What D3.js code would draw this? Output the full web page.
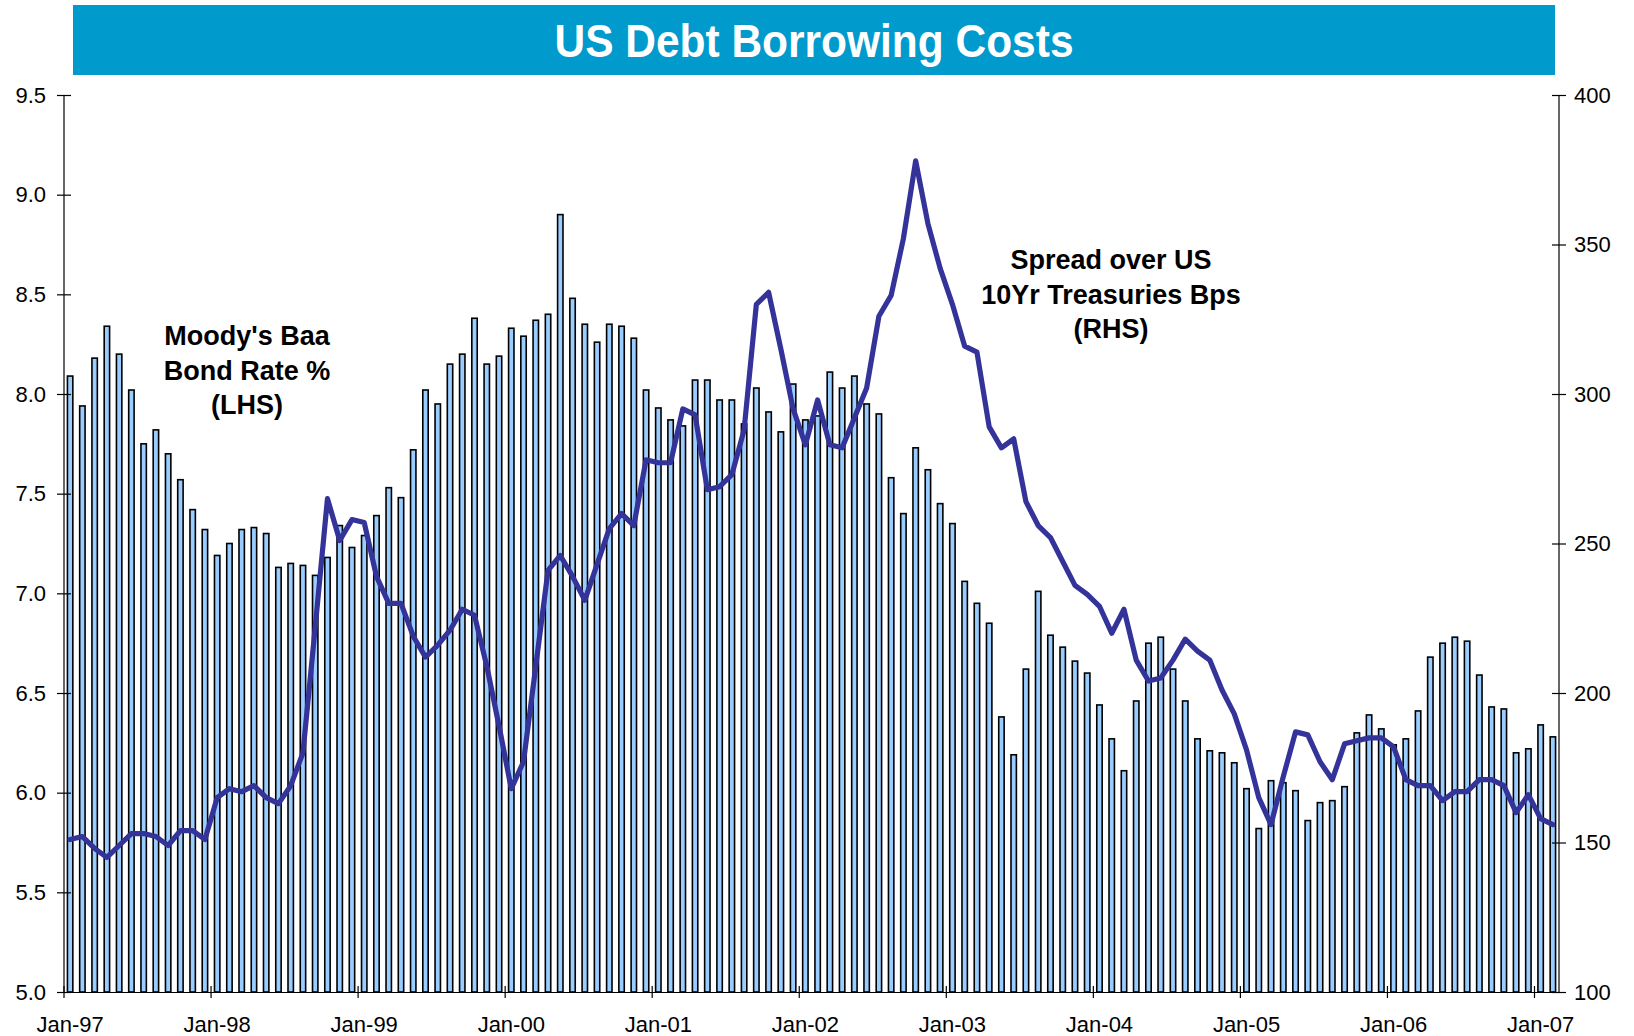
<!DOCTYPE html>
<html><head><meta charset="utf-8">
<script src="https://cdn.jsdelivr.net/npm/d3@7"></script>
<style>
body{margin:0;background:#fff;}
svg{display:block;}
text{font-family:"Liberation Sans",Arial,Helvetica,sans-serif;}
</style>
</head><body>
<svg id="chart" width="1634" height="1036"></svg>
<script>
// ---------- data ----------
const yearLabels = ["97","98","99","00","01","02","03","04","05","06","07"];
const monthNames = ["Jan","Feb","Mar","Apr","May","Jun","Jul","Aug","Sep","Oct","Nov","Dec"];
const categories = yearLabels.flatMap(y => monthNames.map(m => m + "-" + y)).slice(0, 122);
const tickLabels = ["Jan-97","Jan-98","Jan-99","Jan-00","Jan-01","Jan-02","Jan-03","Jan-04","Jan-05","Jan-06","Jan-07"];

// Moody's Baa bond rate % (LHS)
const baaRate = [
  8.09,7.94,8.18,8.34,8.20,8.02,7.75,7.82,7.70,7.57,7.42,7.32,
  7.19,7.25,7.32,7.33,7.30,7.13,7.15,7.14,7.09,7.18,7.34,7.23,
  7.29,7.39,7.53,7.48,7.72,8.02,7.95,8.15,8.20,8.38,8.15,8.19,
  8.33,8.29,8.37,8.40,8.90,8.48,8.35,8.26,8.35,8.34,8.28,8.02,
  7.93,7.87,7.84,8.07,8.07,7.97,7.97,7.85,8.03,7.91,7.81,8.05,
  7.87,7.89,8.11,8.03,8.09,7.95,7.90,7.58,7.40,7.73,7.62,7.45,
  7.35,7.06,6.95,6.85,6.38,6.19,6.62,7.01,6.79,6.73,6.66,6.60,
  6.44,6.27,6.11,6.46,6.75,6.78,6.62,6.46,6.27,6.21,6.20,6.15,
  6.02,5.82,6.06,6.05,6.01,5.86,5.95,5.96,6.03,6.30,6.39,6.32,
  6.24,6.27,6.41,6.68,6.75,6.78,6.76,6.59,6.43,6.42,6.20,6.22,
  6.34,6.28
];

// Spread over US 10Yr Treasuries, bps (RHS)
const spreadBps = [
  151,152,148,145,149,153,153,152,149,154,154,151,
  165,168,167,169,165,163,169,180,222,265,251,258,
  257,239,230,230,219,212,216,221,228,226,209,189,
  168,177,209,241,246,239,231,243,255,260,256,278,
  277,277,295,293,268,269,273,288,330,334,315,295,
  283,298,283,282,292,302,326,333,352,378,357,342,
  330,316,314,289,282,285,264,256,252,244,236,233,
  229,220,228,211,204,205,211,218,214,211,201,193,
  181,165,156,172,187,186,177,171,183,184,185,185,
  182,171,169,169,164,167,167,171,171,169,160,166,
  158,156
];

const leftTicks = [5.0,5.5,6.0,6.5,7.0,7.5,8.0,8.5,9.0,9.5];
const rightTicks = [100,150,200,250,300,350,400];
const title = "US Debt Borrowing Costs";
const baaLabel = ["Moody's Baa","Bond Rate %","(LHS)"];
const spreadLabel = ["Spread over US","10Yr Treasuries Bps","(RHS)"];

// ---------- layout ----------
const L = 64, R = 1559, T = 95, B = 992;
const svg = d3.select("#chart");

const x = d3.scaleBand().domain(categories).range([L, R]).padding(0);
const bw = x.bandwidth();
const yL = d3.scaleLinear().domain([5, 9.5]).range([B, T]);
const yR = d3.scaleLinear().domain([100, 400]).range([B, T]);

// title band
svg.append("rect").attr("x", 73).attr("y", 5).attr("width", 1482).attr("height", 70).attr("fill", "#009ACD");
svg.append("text").attr("x", 814).attr("y", 57).attr("text-anchor", "middle")
  .attr("fill", "#fff").attr("font-weight", "bold").attr("font-size", 46)
  .attr("textLength", 519).attr("lengthAdjust", "spacingAndGlyphs").text(title);

// bars
svg.append("g").selectAll("rect").data(categories).join("rect")
  .attr("x", d => x(d) + bw / 2 - 2.7)
  .attr("width", 5.4)
  .attr("y", (d, i) => yL(baaRate[i]))
  .attr("height", (d, i) => B - yL(baaRate[i]))
  .attr("fill", "#99CCFF").attr("stroke", "#000").attr("stroke-width", 1.6);

// line
const line = d3.line().x((d, i) => x(categories[i]) + bw / 2).y(d => yR(d));
svg.append("path").datum(spreadBps).attr("d", line)
  .attr("fill", "none").attr("stroke", "#333399").attr("stroke-width", 5.2)
  .attr("stroke-linejoin", "round").attr("stroke-linecap", "round");

// left axis
const gL = svg.append("g").attr("transform", `translate(${L},0)`)
  .call(d3.axisLeft(yL).tickValues(leftTicks).tickFormat(d3.format(".1f")).tickSize(7).tickPadding(11));
gL.selectAll(".tick line").attr("x1", 7).attr("x2", -7);

// right axis
const gR = svg.append("g").attr("transform", `translate(${R},0)`)
  .call(d3.axisRight(yR).tickValues(rightTicks).tickSize(7).tickPadding(8));
gR.selectAll(".tick line").attr("x1", -7).attr("x2", 7);

// bottom axis
const gB = svg.append("g").attr("transform", `translate(0,${B})`)
  .call(d3.axisBottom(x).tickValues(tickLabels).tickSize(6).tickSizeOuter(0));
gB.selectAll(".tick line").attr("x1", -bw / 2).attr("x2", -bw / 2).attr("y1", -6).attr("y2", 6);
gB.selectAll(".tick text").attr("y", 24).attr("dy", "0.71em");

[gL, gR, gB].forEach(g => {
  g.select(".domain").attr("stroke", "#000").attr("stroke-width", 1.2);
  g.selectAll(".tick line").attr("stroke", "#000").attr("stroke-width", 1.2);
  g.selectAll(".tick text").attr("font-size", 22).attr("fill", "#000")
    .attr("font-family", "'Liberation Sans', Arial, sans-serif");
});
gL.select(".domain").attr("d", `M0,${T}V${B}`);
gR.select(".domain").attr("d", `M0,${T}V${B}`);

// series labels
function label(lines, cx, y0) {
  const t = svg.append("text").attr("text-anchor", "middle").attr("font-weight", "bold")
    .attr("font-size", 27).attr("fill", "#000");
  lines.forEach((s, i) => t.append("tspan").attr("x", cx).attr("y", y0 + i * 34.5).text(s));
}
label(baaLabel, 247, 345);
label(spreadLabel, 1111, 269);
</script>
</body></html>
